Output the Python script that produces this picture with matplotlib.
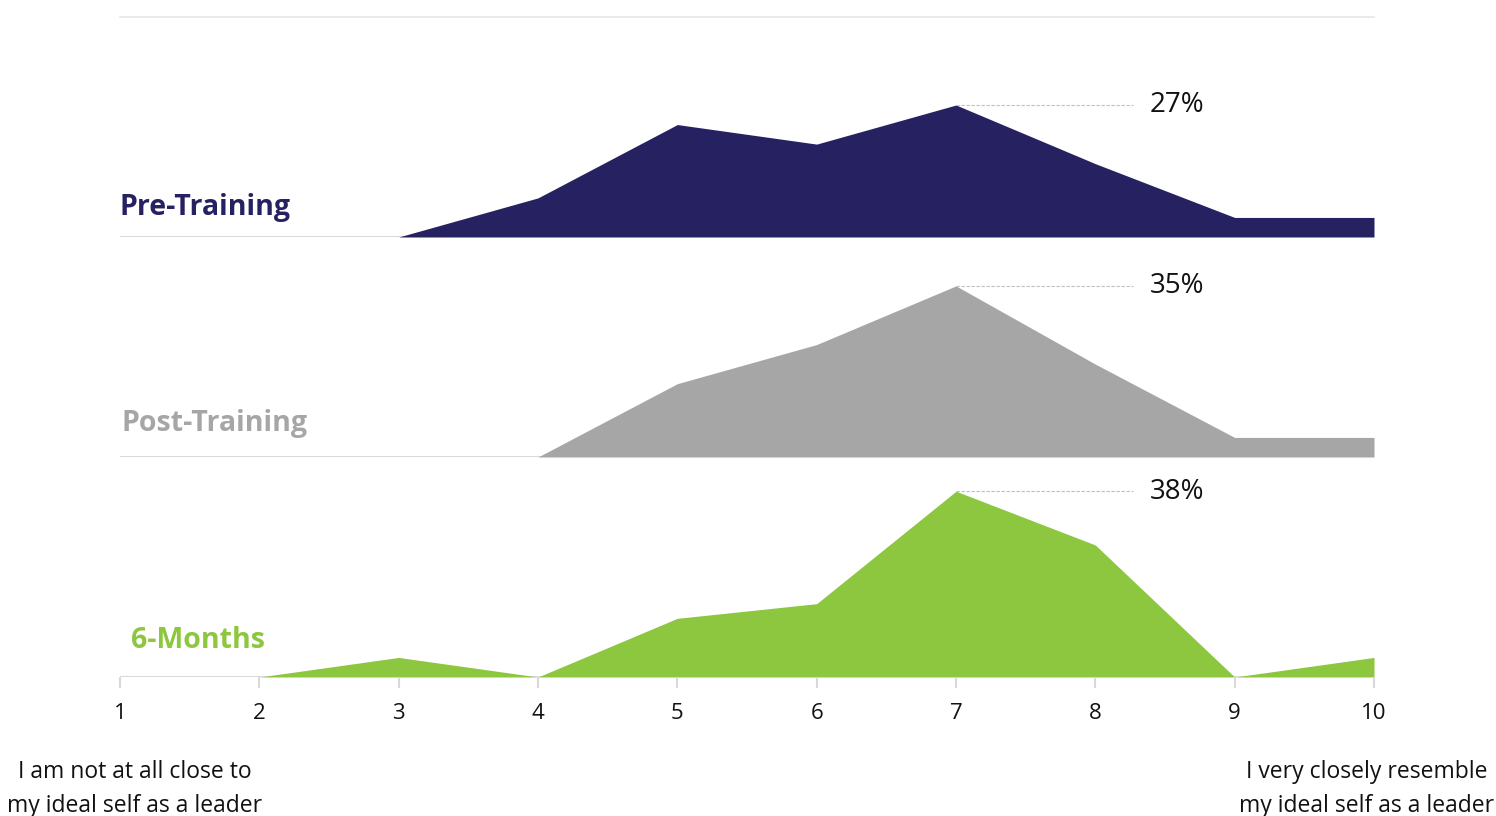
import matplotlib.pyplot as plt
import numpy as np

plt.rcParams['font.family'] = ['Open Sans', 'DejaVu Sans']

# ---------------- DATA ----------------
scores = [1, 2, 3, 4, 5, 6, 7, 8, 9, 10]
pre_training = [0, 0, 0, 8, 23, 19, 27, 15, 4, 4]
post_training = [0, 0, 0, 0, 15, 23, 35, 19, 4, 4]
six_months = [0, 0, 4, 0, 12, 15, 38, 27, 0, 4]

series_names = ["Pre-Training", "Post-Training", "6-Months"]
series_values = [pre_training, post_training, six_months]
series_colors = ["#262262", "#a6a6a6", "#8dc63f"]

left_caption = "I am not at all close to\nmy ideal self as a leader"
right_caption = "I very closely resemble\nmy ideal self as a leader"

# ---------------- LAYOUT ----------------
W, H = 1496, 816
fig = plt.figure(figsize=(W / 100, H / 100), dpi=100)

x0, x1 = 120, 1374
panel_tops = [17, 237, 457]
panel_h = 220
label_x = [120, 121, 131]      # pixel position of series label
label_y = [207, 423, 640]      # pixel centre of series label

axes = []
for i, (name, vals, col) in enumerate(zip(series_names, series_values, series_colors)):
    top = panel_tops[i]
    ax = fig.add_axes([x0 / W, 1 - (top + panel_h) / H, (x1 - x0) / W, panel_h / H])
    ax.fill_between(scores, vals, 0, color=col, linewidth=0)
    ax.set_xlim(1, 10)
    ax.set_ylim(0, 45)
    ax.axhline(0, color="#d9d9d9", linewidth=1.5, zorder=0)
    if i == 0:
        ax.axhline(45, color="#e6e6e6", linewidth=1.2, clip_on=False)
    for s in ax.spines.values():
        s.set_visible(False)
    ax.set_yticks([])
    ax.patch.set_alpha(0)

    # peak annotation
    k = int(np.argmax(vals))
    peak = vals[k]
    ax.plot([scores[k], 8.27], [peak, peak], linestyle=(0, (3, 1.5)),
            color="#bfbfbf", linewidth=0.8, clip_on=False)
    ax.text(8.39, peak - 0.1, f"{peak}%", fontsize=20, color="#111111",
            ha="left", va="center")

    # series label
    fig.text(label_x[i] / W, 1 - label_y[i] / H, name, fontsize=20.5,
             fontweight="bold", color=col, ha="left", va="center")

    if i < 2:
        ax.set_xticks([])
    else:
        ax.set_xticks(scores)
        ax.set_xticklabels([str(s) for s in scores], fontsize=16, color="#111111")
        ax.tick_params(axis="x", length=8, width=1.5, color="#d9d9d9", pad=11)
    axes.append(ax)

fig.text(135 / W, 1 - 789 / H, left_caption, fontsize=16.5, color="#111111",
         ha="center", va="center", linespacing=1.5)
fig.text(1367 / W, 1 - 789 / H, right_caption, fontsize=16.5, color="#111111",
         ha="center", va="center", linespacing=1.5)

fig.savefig("out.png", dpi=100, facecolor="white")
